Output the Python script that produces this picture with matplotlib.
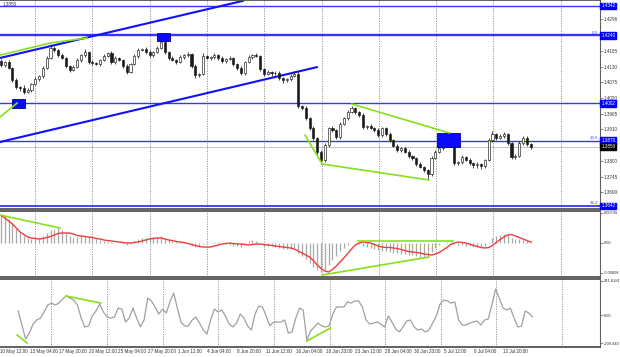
import matplotlib
matplotlib.use("Agg")
import matplotlib.pyplot as plt
import numpy as np

plt.rcParams['font.family'] = ['Liberation Sans', 'DejaVu Sans']

# GBP/USD H4 candles (one entry per two 4H bars)
first_open = 1.4150
closes = [1.4135, 1.4146, 1.4125, 1.4083, 1.4058, 1.4055, 1.4041, 1.4048, 1.4069, 1.4086,
          1.4097, 1.4125, 1.4160, 1.4195, 1.4188, 1.4170, 1.4160, 1.4132, 1.4118, 1.4128,
          1.4153, 1.4170, 1.4181, 1.4146, 1.4142, 1.4139, 1.4153, 1.4167, 1.4177, 1.4146,
          1.4160, 1.4153, 1.4132, 1.4111, 1.4139, 1.4167, 1.4188, 1.4192, 1.4181, 1.4170,
          1.4181, 1.4195, 1.4216, 1.4181, 1.4160, 1.4153, 1.4146, 1.4163, 1.4170, 1.4174,
          1.4132, 1.4100, 1.4104, 1.4167, 1.4160, 1.4163, 1.4170, 1.4160, 1.4149, 1.4156,
          1.4160, 1.4139, 1.4125, 1.4107, 1.4146, 1.4163, 1.4170, 1.4167, 1.4121, 1.4104,
          1.4111, 1.4107, 1.4107, 1.4090, 1.4083, 1.4086, 1.4097, 1.4104, 1.3992, 1.3985,
          1.3950, 1.3915, 1.3880, 1.3831, 1.3803, 1.3855, 1.3915, 1.3908, 1.3883, 1.3929,
          1.3950, 1.3971, 1.3985, 1.3971, 1.3960, 1.3918, 1.3922, 1.3915, 1.3908, 1.3890,
          1.3915, 1.3894, 1.3873, 1.3852, 1.3838, 1.3845, 1.3831, 1.3817, 1.3810, 1.3789,
          1.3779, 1.3768, 1.3754, 1.3810, 1.3831, 1.3845, 1.3852, 1.3859, 1.3873, 1.3792,
          1.3796, 1.3813, 1.3803, 1.3792, 1.3785, 1.3789, 1.3782, 1.3803, 1.3873, 1.3894,
          1.3880, 1.3887, 1.3894, 1.3863, 1.3813, 1.3817, 1.3863, 1.3880, 1.3859, 1.3850]
# wicks in pips
wick_hi = [8, 5, 6, 4, 7, 5, 9, 6, 4, 6, 5, 8, 6, 14, 7, 5, 6, 4, 5, 7,
           6, 5, 9, 4, 6, 5, 4, 7, 5, 6, 8, 4, 5, 6, 5, 7, 6, 4, 5, 6,
           5, 8, 14, 6, 5, 7, 4, 6, 5, 8, 4, 6, 5, 9, 5, 4, 6, 5, 7, 4,
           6, 5, 4, 7, 5, 6, 5, 8, 4, 5, 6, 5, 7, 6, 4, 5, 8, 12, 9, 5,
           6, 5, 7, 4, 6, 8, 5, 6, 4, 7, 5, 6, 8, 5, 4, 6, 5, 7, 4, 6,
           5, 4, 6, 5, 7, 4, 5, 6, 4, 5, 6, 4, 5, 7, 6, 8, 5, 6, 25, 6,
           5, 7, 4, 6, 5, 6, 4, 5, 7, 9, 5, 6, 7, 5, 4, 6, 5, 8, 6, 5]
wick_lo = [6, 7, 5, 8, 6, 9, 7, 5, 6, 4, 5, 6, 4, 5, 6, 7, 5, 8, 6, 5,
           4, 6, 5, 7, 8, 5, 6, 4, 5, 7, 6, 5, 8, 7, 5, 4, 6, 5, 7, 5,
           6, 4, 5, 7, 6, 5, 8, 4, 6, 5, 7, 9, 6, 5, 4, 6, 5, 7, 5, 6,
           4, 6, 7, 8, 5, 4, 6, 5, 7, 6, 5, 9, 6, 7, 10, 6, 5, 4, 6, 7,
           6, 8, 7, 9, 14, 6, 5, 7, 6, 5, 4, 6, 5, 7, 6, 5, 6, 4, 7, 6,
           5, 7, 6, 5, 6, 8, 5, 6, 7, 6, 5, 8, 21, 6, 5, 4, 6, 5, 4, 7,
           8, 6, 5, 7, 9, 10, 12, 6, 5, 6, 7, 5, 6, 8, 7, 6, 5, 6, 7, 8]

# MACD histogram and signal, in units of 0.0001
macd_main = [56, 54, 48, 38, 28, 20, 14, 10, 8, 8, 10, 14, 20, 26, 28, 30, 26, 20, 14, 10,
             12, 14, 14, 12, 10, 8, 6, 4, 4, 2, 0, 0, -2, -4, -2, 4, 8, 10, 10, 12,
             12, 12, 14, 10, 6, 4, 2, 2, 2, 0, -6, -8, -6, -2, 0, 0, 2, 2, 0, -2,
             -4, -6, -6, -8, -2, 4, 6, 4, -2, -6, -6, -6, -8, -10, -12, -12, -12, -12, -20, -26,
             -32, -40, -48, -54, -58, -54, -44, -34, -26, -16, -10, -4, 0, 0, -2, -6, -8, -10, -12, -14,
             -16, -16, -18, -20, -20, -22, -22, -24, -24, -26, -28, -28, -26, -18, -10, -4, 0, 2, 2, -2,
             -4, -4, -6, -6, -8, -8, -8, -6, 2, 10, 14, 16, 18, 16, 10, 8, 8, 6, 4, 4]
macd_signal = [55, 50, 44, 38, 30, 22, 17, 12, 10, 9, 8, 9, 11, 13, 16, 19, 20, 20, 20, 18,
               15, 14, 13, 12, 11, 9, 8, 6, 5, 4, 3, 2, 1, 0, 0, 1, 2, 4, 6, 8,
               9, 10, 10, 8, 6, 5, 3, 2, 1, -1, -3, -5, -7, -8, -8, -8, -6, -4, -2, -1,
               0, -1, -2, -2, -3, -4, -3, -2, -2, -3, -4, -5, -6, -7, -8, -9, -10, -12, -16, -20,
               -24, -28, -35, -44, -51, -56, -58, -53, -46, -38, -30, -21, -12, -4, 0, 2, 1, 0, -3, -6,
               -8, -9, -9, -10, -11, -13, -15, -17, -18, -19, -20, -22, -23, -24, -22, -19, -14, -9, -3, 0,
               2, 1, 0, -2, -5, -7, -9, -10, -9, -5, 1, 7, 12, 16, 17, 14, 11, 8, 5, 2]

cci = [29, -72, -173, -130, -65, -36, -22, 22, 72, 86, 72, 86, 115, 137, 122, 108, 72, -22, -86, -79,
       -7, 29, 79, 22, -14, -22, -14, 50, 43, -50, -22, 50, -22, -86, -36, 122, 101, 58, 7, 43,
       14, 94, 158, 50, -50, -79, -79, -36, -14, -58, -108, -137, -36, 43, 22, 36, -7, -65, -86, -58,
       7, -22, -79, -108, 7, 65, 58, -7, -79, -50, -50, -50, -36, -130, -122, -22, 50, 36, -180, -115,
       -86, -58, -79, -86, -79, 7, 58, 58, 58, 94, 86, 101, 101, 58, -36, -65, -58, -50, -65, -86,
       -7, -50, -101, -122, -86, -43, -36, -86, -108, -101, -122, -108, -58, -7, 79, 108, 101, 86, 94, -36,
       -72, -72, -58, -50, -43, -72, -36, -29, 72, 187, 122, 50, 36, 50, -22, -86, -79, 29, 14, -14]

x_labels = ["10 May 12:00", "13 May 04:00", "17 May 20:00", "20 May 12:00", "25 May 04:00",
            "27 May 20:00", "1 Jun 12:00", "4 Jun 04:00", "8 Jun 20:00", "11 Jun 12:00",
            "16 Jun 04:00", "18 Jun 20:00", "23 Jun 12:00", "28 Jun 04:00", "30 Jun 20:00",
            "5 Jul 12:00", "8 Jul 04:00", "12 Jul 20:00"]
price_ticks = [1.4296, 1.4185, 1.4130, 1.4075, 1.4020, 1.3965, 1.3910, 1.3800, 1.3745, 1.3690]
levels = [1.4342, 1.4240, 1.4002, 1.3870, 1.3642]
fib_names = {1.4240: "0.0", 1.3870: "23.6", 1.3642: "38.2"}
last_price = 1.3850

# hand drawn objects: (bar, value) points
channel_up = [(-0.3, 1.4160), (63.5, 1.4360)]
channel_dn = [(-0.3, 1.3866), (82.9, 1.4128)]
green_price = [[(-0.3, 1.3953), (4.2, 1.4002)],
               [(-0.3, 1.4170), (13.1, 1.4213), (22.6, 1.4230)],
               [(79.8, 1.3890), (84.3, 1.3789), (112.3, 1.3733)],
               [(92.1, 1.3999), (117.6, 1.3898)]]
boxes = [(2.9, 6.3, 1.3985, 1.4017), (40.9, 44.4, 1.4220, 1.4248), (114.4, 120.5, 1.3849, 1.3898)]
green_macd = [[(-0.3, 56), (15.5, 30)], [(93.7, 4), (118.6, 4)], [(84.3, -64), (112.3, -28)]]
green_cci = [[(12.9, 137), (22.3, 86)], [(78.0, -187), (84.3, -94)], [(-0.3, -144), (2.4, -202)]]

W, H = 620, 357
PX = 3.81  # reference pixels per bar
GREEN = '#86e01e'
FS = 3.3

closes = np.array(closes)
n = len(closes)
x = np.arange(n)
opens = np.r_[first_open, closes[:-1]]
hi = np.maximum(opens, closes) + np.array(wick_hi) * 1e-4
lo = np.minimum(opens, closes) - np.array(wick_lo) * 1e-4

fig = plt.figure(figsize=(W / 100, H / 100), dpi=100)
ax = fig.add_axes([0, 1 - 209 / H, 600 / W, 209 / H])
am = fig.add_axes([0, 1 - 277 / H, 600 / W, 66 / H])
ac = fig.add_axes([0, 1 - 347 / H, 600 / W, 68 / H])

grid_px = [35, 92.3, 149.6, 206.9, 264.2, 321.5, 378.8, 436.1, 493.4, 561]
for a in (ax, am, ac):
    a.set_xlim(-1 / PX, 599 / PX)
    for g in grid_px:
        a.axvline((g - 1) / PX, color='#8a8a8a', lw=0.6, ls=(0, (1.5, 1.5)), zorder=0)
    a.spines['left'].set_visible(False)
    a.spines['right'].set_color('#606060')
    a.spines['right'].set_linewidth(0.8)
    for s in ('top', 'bottom'):
        a.spines[s].set_color('#555555')
        a.spines[s].set_linewidth(1.3)
    a.yaxis.tick_right()
    a.tick_params(axis='y', labelsize=FS, length=2, width=0.4, pad=1, colors='#333333')
    a.tick_params(axis='x', length=0)
    a.set_xticks([])

# ---- price panel
ax.set_ylim(1.36315, 1.4363)
lw_lvl = {1.4342: 1.0, 1.4240: 1.7, 1.4002: 1.0, 1.3870: 1.0, 1.3642: 1.3}
for lvl in levels:
    ax.axhline(lvl, color='#3535ff', lw=lw_lvl[lvl], zorder=1)
ax.axhline(last_price, color='#c4c4c4', lw=0.7, zorder=1)
for line in (channel_up, channel_dn):
    xs, ys = zip(*line)
    ax.plot(xs, ys, color='#1010ff', lw=1.5, zorder=2)

up = closes >= opens
body_lo = np.minimum(opens, closes)
body_h = np.maximum(np.abs(closes - opens), 0.00004)
ax.vlines(x, lo, hi, color='#1a1a1a', lw=0.55, zorder=3)
ax.bar(x[up], body_h[up], bottom=body_lo[up], width=0.55, color='white', edgecolor='#1a1a1a', lw=0.45, zorder=4)
ax.bar(x[~up], body_h[~up], bottom=body_lo[~up], width=0.55, color='#1a1a1a', edgecolor='#1a1a1a', lw=0.45, zorder=4)

for x0, x1, y0, y1 in boxes:
    ax.add_patch(plt.Rectangle((x0, y0), x1 - x0, y1 - y0, fc='#0a0aff', ec='#00008b', lw=0.6, zorder=5))
for line in green_price:
    xs, ys = zip(*line)
    ax.plot(xs, ys, color=GREEN, lw=1.2, zorder=6)

ax.set_yticks(price_ticks)
ax.set_yticklabels([f"{p:.4f}" for p in price_ticks])
yt = ax.get_yaxis_transform()
for lvl in levels:
    ax.text(1.002, lvl, f"{lvl:.4f}", transform=yt, fontsize=FS, color='white', va='center', ha='left',
            bbox=dict(boxstyle='square,pad=0.2', fc='#0000ff', ec='#0000ff'), clip_on=False, zorder=10)
    if lvl in fib_names:
        ax.text(597 / PX, lvl + 0.0002, fib_names[lvl], fontsize=3.2, color='#4444ff', ha='right', va='bottom')
ax.text(1.002, last_price, f"{last_price:.4f}", transform=yt, fontsize=FS, color='white', va='center', ha='left',
        bbox=dict(boxstyle='square,pad=0.2', fc='black', ec='black'), clip_on=False, zorder=10)
ax.text(0.005, 0.99, "1.3850", transform=ax.transAxes, fontsize=FS, color='#333333', va='top', ha='left')

# ---- MACD panel
am.set_ylim(-68e-4, 64e-4)
am.vlines(x, 0, np.array(macd_main) * 1e-4, color='#a8a8a8', lw=0.9, zorder=2)
am.plot(x, np.array(macd_signal) * 1e-4, color='#f03c3c', lw=1.0, zorder=3)
for line in green_macd:
    xs, ys = zip(*line)
    am.plot(xs, np.array(ys) * 1e-4, color=GREEN, lw=1.2, zorder=4)
am.set_yticks([60e-4, 0, -60e-4])
am.set_yticklabels(["0.00736", "0.00", "-0.00608"])
am.tick_params(axis='y', labelsize=2.9)

# ---- CCI panel
ac.set_ylim(-230, 259)
ac.plot(x, cci, color='#a0a0a0', lw=0.9, zorder=2)
for line in green_cci:
    xs, ys = zip(*line)
    ac.plot(xs, ys, color=GREEN, lw=1.2, zorder=4)
ac.set_yticks([245, 0, -202])
ac.set_yticklabels(["241.8181", "0.00", "-209.440"])
ac.tick_params(axis='y', labelsize=2.9)
ac.set_xticks((12.7 - 1) / PX + 8 * np.arange(-1, len(x_labels) - 1))
ac.set_xticklabels(x_labels, fontsize=FS, ha='left', color='#333333')
ac.tick_params(axis='x', length=0, pad=1.5)

fig.savefig('out.png', dpi=100)
